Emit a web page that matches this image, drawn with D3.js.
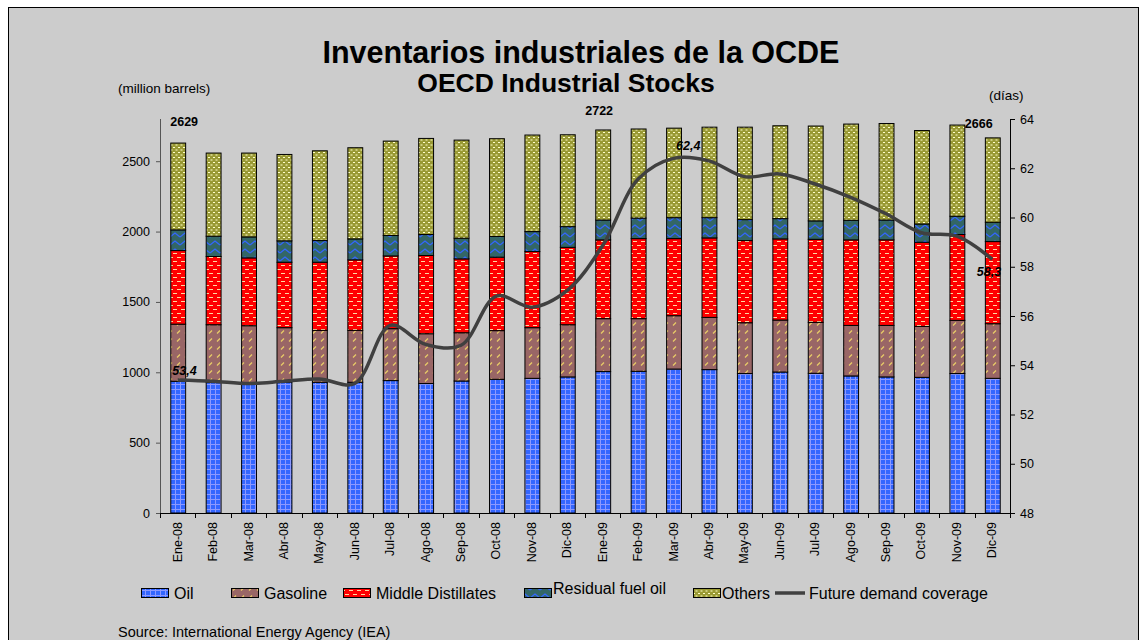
<!DOCTYPE html>
<html>
<head>
<meta charset="utf-8">
<script src="https://cdn.jsdelivr.net/npm/d3@7"></script>
<style>
  body { margin: 0; background: #fff; }
  text { font-family: Arial, "Liberation Sans", sans-serif; }
</style>
</head>
<body>
<svg width="1146" height="640"></svg>
<script>
// months on the x axis
var months = ["Ene-08","Feb-08","Mar-08","Abr-08","May-08","Jun-08","Jul-08","Ago-08","Sep-08","Oct-08","Nov-08","Dic-08",
              "Ene-09","Feb-09","Mar-09","Abr-09","May-09","Jun-09","Jul-09","Ago-09","Sep-09","Oct-09","Nov-09","Dic-09"];

// stocks, million barrels
var oil      = [936,927,920,931,929,929,941,920,938,950,957,967,1005,1007,1023,1019,991,1002,993,974,967,964,991,957];
var gasoline = [406,411,411,386,369,369,369,354,343,346,360,371,376,374,379,371,361,369,362,359,366,362,378,388];
var middle   = [523,485,482,465,484,501,517,556,525,522,541,550,560,569,548,565,584,577,590,608,608,598,610,584];
var residual = [147,144,149,152,154,149,145,149,147,147,142,147,141,146,149,144,149,144,131,139,141,130,130,137];
var others   = [617,591,596,614,638,648,671,683,697,695,686,653,640,633,636,643,657,660,674,684,686,664,648,600];

// future demand coverage, days
var coverage = [53.4,53.35,53.26,53.35,53.44,53.26,55.62,54.85,54.81,56.81,56.36,57.04,
                58.86,61.56,62.4,62.3,61.66,61.77,61.36,60.82,60.15,59.38,59.24,58.3];

var leftTicks = [0,500,1000,1500,2000,2500];
var rightTicks = [48,50,52,54,56,58,60,62,64];

var seriesNames = ["Oil","Gasoline","Middle Distillates","Residual fuel oil","Others"];
var seriesKeys = ["oil","gasoline","middle","residual","others"];

var svg = d3.select("svg");
var margin = {top: 119, left: 160, right: 136, bottom: 127};
var width = 1146 - margin.left - margin.right,
    height = 640 - margin.top - margin.bottom;

// background + frame
svg.append("rect").attr("x", 8.5).attr("y", 7.5).attr("width", 1130).attr("height", 640)
  .style("fill", "#cccccc").style("stroke", "#000").style("stroke-width", 1);

// patterns
var defs = svg.append("defs");
function pat(id, w, h, bg) {
  var p = defs.append("pattern").attr("id", id).attr("patternUnits", "userSpaceOnUse")
    .attr("width", w).attr("height", h);
  p.append("rect").attr("width", w).attr("height", h).style("fill", bg);
  return p;
}
var p1 = pat("p-oil", 5, 5, "#3366ff");
p1.append("path").attr("d", "M0,0.5H5M0.5,0V5").style("stroke", "#8c99ff").style("stroke-width", 1);

var p2 = pat("p-gas", 8, 8, "#996666");
p2.append("path").attr("d", "M1,6.5L4,3.5").style("stroke", "#e8cc66").style("stroke-width", 1.3);

var p3 = pat("p-mid", 8, 8, "#ff0000");
p3.append("path").attr("d", "M1,2.5H5M5,6.5H8M0,6.5H1").style("stroke", "#ffd9a0").style("stroke-width", 1.2);

var p4 = pat("p-res", 10, 8, "#336666");
p4.append("path").attr("d", "M0,6L5,2L10,6").style("stroke", "#3366ff").style("stroke-width", 1.3).style("fill", "none");

var p5 = pat("p-oth", 5, 5, "#999933");
p5.append("path").attr("d", "M0.5,1H2.5M3,3.5H5").style("stroke", "#ffffcc").style("stroke-width", 1);

var fills = {oil: "url(#p-oil)", gasoline: "url(#p-gas)", middle: "url(#p-mid)", residual: "url(#p-res)", others: "url(#p-oth)"};

// data table
var table = months.map(function (m, i) {
  return {month: m, oil: oil[i], gasoline: gasoline[i], middle: middle[i], residual: residual[i], others: others[i]};
});
var stacked = d3.stack().keys(seriesKeys)(table);

var x = d3.scaleBand().domain(months).range([0, width]).paddingInner(0.58).paddingOuter(0.29);
var y = d3.scaleLinear().domain([0, 2800]).range([height, 0]);
var y2 = d3.scaleLinear().domain([48, 64]).range([height, 0]);

var g = svg.append("g").attr("transform", "translate(" + margin.left + "," + margin.top + ")");

// bars
stacked.forEach(function (layer) {
  g.append("g").selectAll("rect").data(layer).enter().append("rect")
    .attr("x", function (d) { return x(d.data.month) + 0.5; })
    .attr("width", x.bandwidth())
    .attr("y", function (d) { return y(d[1]); })
    .attr("height", function (d) { return y(d[0]) - y(d[1]); })
    .style("fill", fills[layer.key])
    .style("stroke", "#000").style("stroke-width", 1);
});

// left axis
var yAxis = g.append("g").attr("class", "axis")
  .call(d3.axisLeft(y).tickValues(leftTicks).tickFormat(d3.format("d")).tickSize(4).tickPadding(6));
yAxis.select(".domain").attr("d", "M0.5," + height + "V0").style("stroke", "#555");
yAxis.selectAll("line").style("stroke", "#555");
yAxis.selectAll("text").style("font-size", "12.5px").style("fill", "#000");

// right axis
var y2Axis = g.append("g").attr("transform", "translate(" + width + ",0)")
  .call(d3.axisRight(y2).tickValues(rightTicks).tickSize(5).tickPadding(5));
y2Axis.select(".domain").attr("d", "M0.5," + height + "V0").style("stroke", "#000");
y2Axis.selectAll("text").style("font-size", "12.5px").style("fill", "#000");

// x axis
var xg = g.append("g").attr("transform", "translate(0," + height + ")");
xg.append("line").attr("x1", 0).attr("x2", width).attr("y1", 0.5).attr("y2", 0.5).style("stroke", "#000");
d3.range(months.length + 1).forEach(function (i) {
  var px = Math.round(i * x.step()) + 0.5;
  xg.append("line").attr("x1", px).attr("x2", px).attr("y1", 0).attr("y2", 5).style("stroke", "#000");
});
xg.selectAll("text.m").data(months).enter().append("text")
  .attr("class", "m")
  .attr("transform", function (d) { return "translate(" + (x(d) + x.bandwidth() / 2 + 4) + ",9) rotate(-90)"; })
  .attr("text-anchor", "end")
  .style("font-size", "12.5px")
  .text(function (d) { return d; });

// coverage line
var line = d3.line()
  .x(function (d, i) { return x(months[i]) + x.bandwidth() / 2; })
  .y(function (d) { return y2(d); })
  .curve(d3.curveCatmullRom.alpha(0.5));
g.append("path").datum(coverage).attr("d", line)
  .style("fill", "none").style("stroke", "#404040").style("stroke-width", 3.5);

// value labels
function total(i) { return oil[i] + gasoline[i] + middle[i] + residual[i] + others[i]; }
var totLabels = [{i: 0, t: "2629", dx: 0, dy: -17}, {i: 12, t: "2722", dx: -10, dy: -15}, {i: 23, t: "2666", dx: -20, dy: -10}];
totLabels.forEach(function (d) {
  g.append("text").attr("x", x(months[d.i]) + d.dx).attr("y", y(total(d.i)) + d.dy)
    .style("font-size", "12.5px").style("font-weight", "bold").text(d.t);
});
var covLabels = [{i: 0, t: "53,4", dx: 2, dy: -5}, {i: 14, t: "62,4", dx: 10, dy: -8}, {i: 23, t: "58,3", dx: -8, dy: 17}];
covLabels.forEach(function (d) {
  g.append("text").attr("x", x(months[d.i]) + d.dx).attr("y", y2(coverage[d.i]) + d.dy)
    .style("font-size", "12.5px").style("font-weight", "bold").style("font-style", "italic").text(d.t);
});

// titles
svg.append("text").attr("x", 581).attr("y", 63).attr("text-anchor", "middle")
  .style("font-size", "30.5px").style("font-weight", "bold").text("Inventarios industriales de la OCDE");
svg.append("text").attr("x", 566).attr("y", 92).attr("text-anchor", "middle")
  .style("font-size", "26.5px").style("font-weight", "bold").text("OECD Industrial Stocks");
svg.append("text").attr("x", 118).attr("y", 93).style("font-size", "13.5px").text("(million barrels)");
svg.append("text").attr("x", 989).attr("y", 100).style("font-size", "13.5px").text("(días)");

// legend
var legendItems = [
  {name: seriesNames[0], fill: fills.oil, x: 141, tx: 174, ty: 599},
  {name: seriesNames[1], fill: fills.gasoline, x: 231, tx: 264, ty: 599},
  {name: seriesNames[2], fill: fills.middle, x: 343, tx: 376, ty: 599},
  {name: seriesNames[3], fill: fills.residual, x: 524, tx: 553, ty: 594},
  {name: seriesNames[4], fill: fills.others, x: 693, tx: 722, ty: 599}
];
legendItems.forEach(function (d) {
  svg.append("rect").attr("x", d.x + 0.5).attr("y", 588.5).attr("width", 27).attr("height", 9)
    .style("fill", d.fill).style("stroke", "#000");
  svg.append("text").attr("x", d.tx).attr("y", d.ty).style("font-size", "16px").text(d.name);
});
svg.append("line").attr("x1", 775).attr("x2", 805).attr("y1", 593).attr("y2", 593)
  .style("stroke", "#404040").style("stroke-width", 3.5);
svg.append("text").attr("x", 809).attr("y", 599).style("font-size", "16px").text("Future demand coverage");

svg.append("text").attr("x", 118).attr("y", 637).style("font-size", "14.5px").text("Source: International Energy Agency (IEA)");
</script>
</body>
</html>
